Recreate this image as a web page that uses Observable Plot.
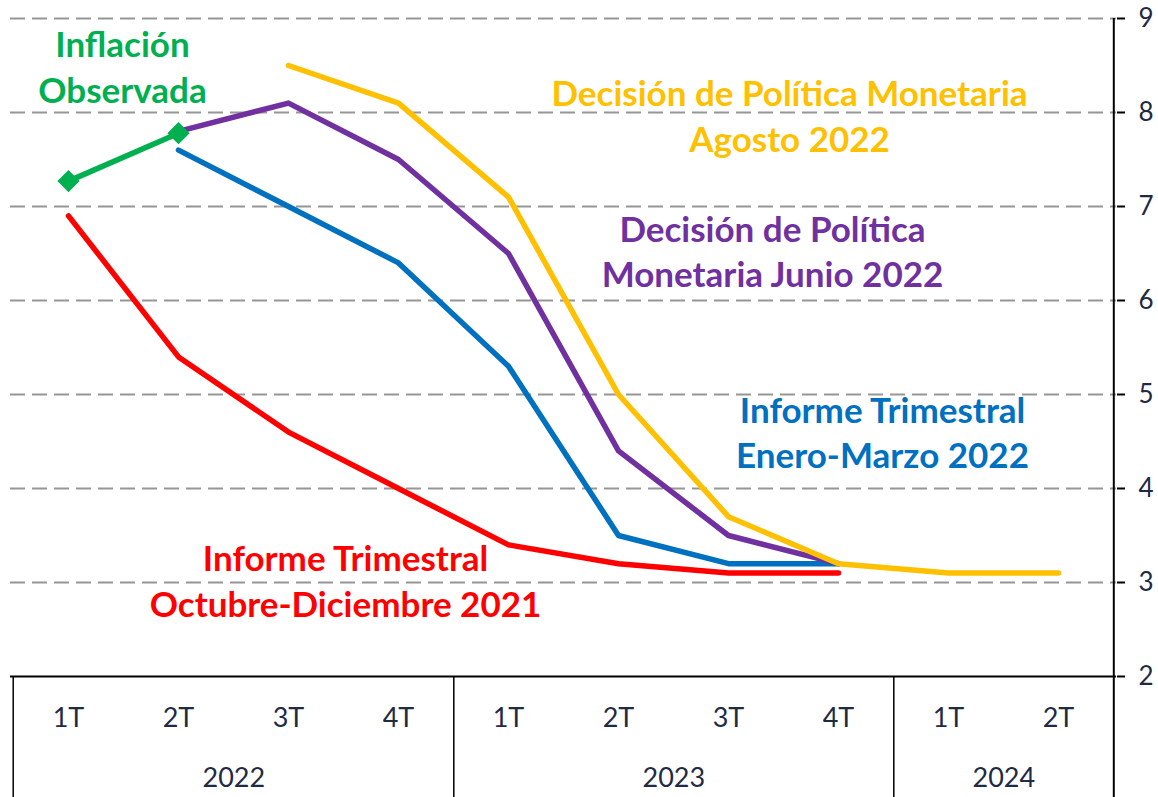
<!DOCTYPE html>
<html>
<head>
<meta charset="utf-8">
<script src="https://cdn.jsdelivr.net/npm/d3@7"></script>
<script src="https://cdn.jsdelivr.net/npm/@observablehq/plot@0.6"></script>
<style>
  html, body { margin: 0; padding: 0; background: #fff; }
  #chart svg { display: block; }
</style>
</head>
<body>
<div id="chart"></div>
<script>
// ---- data ----
const quarters = ["2022-1T","2022-2T","2022-3T","2022-4T","2023-1T","2023-2T","2023-3T","2023-4T","2024-1T","2024-2T"];
const quarterLabels = ["1T","2T","3T","4T","1T","2T","3T","4T","1T","2T"];
const years = ["2022","2023","2024"];
const yearAnchor = ["2022-2T","2023-2T","2024-1T"]; // year label sits between these and the next quarter
const groupEdges = ["2022-1T","2022-4T","2023-4T","2024-2T"];

const informeOctDic2021 = [6.9, 5.4, 4.6, 4.0, 3.4, 3.2, 3.1, 3.1, null, null];
const informeEneMar2022 = [null, 7.6, 7.0, 6.4, 5.3, 3.5, 3.2, 3.2, null, null];
const decisionJunio2022 = [null, 7.8, 8.1, 7.5, 6.5, 4.4, 3.5, 3.2, null, null];
const decisionAgosto2022 = [null, null, 8.5, 8.1, 7.1, 5.0, 3.7, 3.2, 3.1, 3.1];
const inflacionObservada = [7.27, 7.78, null, null, null, null, null, null, null, null];

const yTicks = [2, 3, 4, 5, 6, 7, 8, 9];
const gridValues = [3, 4, 5, 6, 7, 8, 9];

const seriesNames = ["Informe Trimestral\nOctubre-Diciembre 2021", "Informe Trimestral\nEnero-Marzo 2022",
  "Decisión de Política\nMonetaria Junio 2022", "Decisión de Política Monetaria\nAgosto 2022", "Inflación\nObservada"];
const seriesColors = ["#ff0000", "#0070c0", "#7030a0", "#ffc000", "#00b050"];
// where each series label is anchored (category, value)
const labelX = ["2022-3T", "2023-4T", "2023-3T", "2023-3T", "2022-1T"];
const labelY = [3.03, 4.61, 6.54, 7.98, 8.50];
const labelDx = [57, 44, 44, 61, 54];

// ---- build ----
const toRows = (vals) => quarters.map((q, i) => ({q, v: vals[i]})).filter(d => d.v != null);
const allSeries = [informeOctDic2021, informeEneMar2022, decisionJunio2022, decisionAgosto2022, inflacionObservada];

const W = 1158, H = 797;
const mL = 10, mR = 42, mT = 18, mB = 121;
const bandW = (W - mL - mR) / quarters.length;
const yPerUnit = (H - mT - mB) / (9 - 2);
const yBottom = 2 - mB / yPerUnit;

const navy = "#1f2a44";
const font = "Lato, 'Open Sans', sans-serif";

const sepMarks = [
  Plot.ruleX([groupEdges[0]], {x: d => d, dx: -bandW / 2, y1: 2, y2: yBottom, stroke: "#000", strokeWidth: 1.5}),
  Plot.ruleX(groupEdges.slice(1, 3), {x: d => d, dx: bandW / 2, y1: 2, y2: yBottom, stroke: "#000", strokeWidth: 1.5}),
  Plot.ruleX([groupEdges[3]], {x: d => d, dx: bandW / 2, y1: 9, y2: yBottom, stroke: "#000", strokeWidth: 2}),
];

const lineMarks = allSeries.map((vals, i) =>
  Plot.line(toRows(vals), {x: "q", y: "v", stroke: seriesColors[i], strokeWidth: 5.5, strokeLinejoin: "round",
    strokeLinecap: i === 4 ? "butt" : "round"})
);

const labelMarks = seriesNames.map((name, i) =>
  Plot.text([name], {x: () => labelX[i], y: () => labelY[i], dx: labelDx[i], text: d => d,
    fill: seriesColors[i], fontSize: 35, fontWeight: "bold", fontFamily: font, lineHeight: 1.3,
    lineAnchor: "middle", textAnchor: "middle"})
);

const chart = Plot.plot({
  width: W, height: H,
  marginLeft: mL, marginRight: mR, marginTop: mT, marginBottom: mB,
  style: {fontFamily: font, background: "#fff", overflow: "visible"},
  x: {type: "band", domain: quarters, padding: 0, axis: null},
  y: {domain: [2, 9], axis: null},
  marks: [
    Plot.ruleY(gridValues, {stroke: "#969696", strokeWidth: 2, strokeDasharray: "15,7"}),
    Plot.ruleY([2], {stroke: "#000", strokeWidth: 2}),
    ...sepMarks,
    Plot.axisY(yTicks, {anchor: "right", tickSize: 8, tickPadding: 14, fontSize: 26, color: navy,
      stroke: "#000", strokeWidth: 2, fontFamily: font, tickFormat: d => String(d), label: null}),
    ...lineMarks,
    Plot.dot(toRows(inflacionObservada), {x: "q", y: "v", symbol: "diamond2", r: 10, fill: seriesColors[4]}),
    Plot.text(quarters, {x: d => d, text: quarterLabels, frameAnchor: "bottom", dy: 42, lineAnchor: "middle",
      fontSize: 27, fill: navy, fontFamily: font}),
    Plot.text(years, {x: (d, i) => yearAnchor[i], text: d => d, dx: bandW / 2, frameAnchor: "bottom", dy: 102,
      lineAnchor: "middle", fontSize: 27, fill: navy, fontFamily: font}),
    ...labelMarks
  ]
});
document.getElementById("chart").appendChild(chart);
</script>
</body>
</html>
